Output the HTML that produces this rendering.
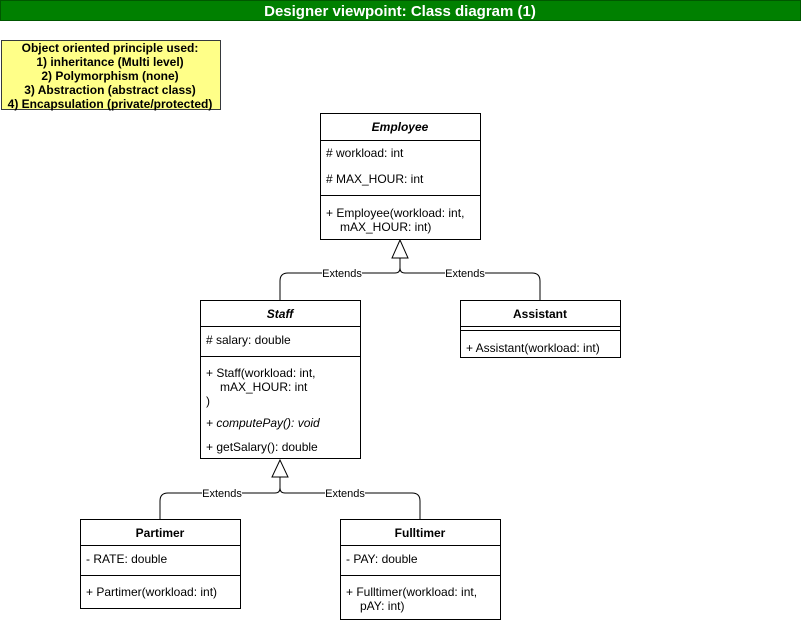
<!DOCTYPE html>
<html><head><style>
html,body{margin:0;padding:0;background:#fff;}
svg{display:block;font-family:"Liberation Sans",Arial,sans-serif;}
</style></head><body>
<svg width="801" height="623" viewBox="0 0 801 623" xmlns="http://www.w3.org/2000/svg">
<rect x="0.5" y="0.5" width="800" height="20" fill="#008000" stroke="#005700"/>
<text x="400" y="16" font-size="15" font-weight="bold" fill="#fff" text-anchor="middle">Designer viewpoint: Class diagram (1)</text>

<rect x="1.5" y="40.5" width="219" height="69" fill="#ffff88" stroke="#36393d"/>
<g font-size="12" font-weight="bold" text-anchor="middle" fill="#000">
<text x="110" y="52">Object oriented principle used:</text>
<text x="110" y="66">1) inheritance (Multi level)</text>
<text x="110" y="80">2) Polymorphism (none)</text>
<text x="110" y="94">3) Abstraction (abstract class)</text>
<text x="110" y="108">4) Encapsulation (private/protected)</text>
</g>

<g fill="none" stroke="#000">
<path d="M400 258 V268 Q400 273 395 273 H288 Q280 273 280 281 V300"/>
<path d="M400 258 V268 Q400 273 405 273 H532 Q540 273 540 281 V300"/>
<polygon points="400,240 392,258 408,258" fill="#fff"/>
<path d="M280 477 V488 Q280 493 275 493 H168 Q160 493 160 501 V519"/>
<path d="M280 477 V488 Q280 493 285 493 H412 Q420 493 420 501 V519"/>
<polygon points="280,460 272,477 288,477" fill="#fff"/>
</g>
<g font-size="11" text-anchor="middle" fill="#000">
<rect x="322" y="267" width="40" height="12" fill="#fff"/><text x="342" y="277">Extends</text>
<rect x="445" y="267" width="40" height="12" fill="#fff"/><text x="465" y="277">Extends</text>
<rect x="202" y="487" width="40" height="12" fill="#fff"/><text x="222" y="497">Extends</text>
<rect x="325" y="487" width="40" height="12" fill="#fff"/><text x="345" y="497">Extends</text>
</g>

<g fill="#fff" stroke="#000">
<rect x="320.5" y="113.5" width="160" height="126"/>
<line x1="320" y1="140.5" x2="480" y2="140.5"/>
<line x1="320" y1="195.5" x2="480" y2="195.5"/>
<rect x="200.5" y="300.5" width="160" height="158"/>
<line x1="200" y1="326.5" x2="360" y2="326.5"/>
<line x1="200" y1="356.5" x2="360" y2="356.5"/>
<rect x="460.5" y="300.5" width="160" height="57"/>
<line x1="460" y1="326.5" x2="620" y2="326.5"/>
<line x1="460" y1="330.5" x2="620" y2="330.5"/>
<rect x="80.5" y="519.5" width="160" height="89"/>
<line x1="80" y1="545.5" x2="240" y2="545.5"/>
<line x1="80" y1="575.5" x2="240" y2="575.5"/>
<rect x="340.5" y="519.5" width="160" height="100"/>
<line x1="340" y1="545.5" x2="500" y2="545.5"/>
<line x1="340" y1="575.5" x2="500" y2="575.5"/>
</g>

<g font-size="12" fill="#000">
<text x="400" y="131" text-anchor="middle" font-weight="bold" font-style="italic">Employee</text>
<text x="326" y="157"># workload: int</text>
<text x="326" y="183"># MAX_HOUR: int</text>
<text x="326" y="217">+ Employee(workload: int,</text>
<text x="340" y="231">mAX_HOUR: int)</text>

<text x="280" y="318" text-anchor="middle" font-weight="bold" font-style="italic">Staff</text>
<text x="206" y="344"># salary: double</text>
<text x="206" y="377">+ Staff(workload: int,</text>
<text x="220" y="391">mAX_HOUR: int</text>
<text x="206" y="405">)</text>
<text x="206" y="427" font-style="italic">+ computePay(): void</text>
<text x="206" y="451">+ getSalary(): double</text>

<text x="540" y="318" text-anchor="middle" font-weight="bold">Assistant</text>
<text x="466" y="352">+ Assistant(workload: int)</text>

<text x="160" y="537" text-anchor="middle" font-weight="bold">Partimer</text>
<text x="86" y="563">- RATE: double</text>
<text x="86" y="596">+ Partimer(workload: int)</text>

<text x="420" y="537" text-anchor="middle" font-weight="bold">Fulltimer</text>
<text x="346" y="563">- PAY: double</text>
<text x="346" y="596">+ Fulltimer(workload: int,</text>
<text x="360" y="610">pAY: int)</text>
</g>
</svg>
</body></html>
